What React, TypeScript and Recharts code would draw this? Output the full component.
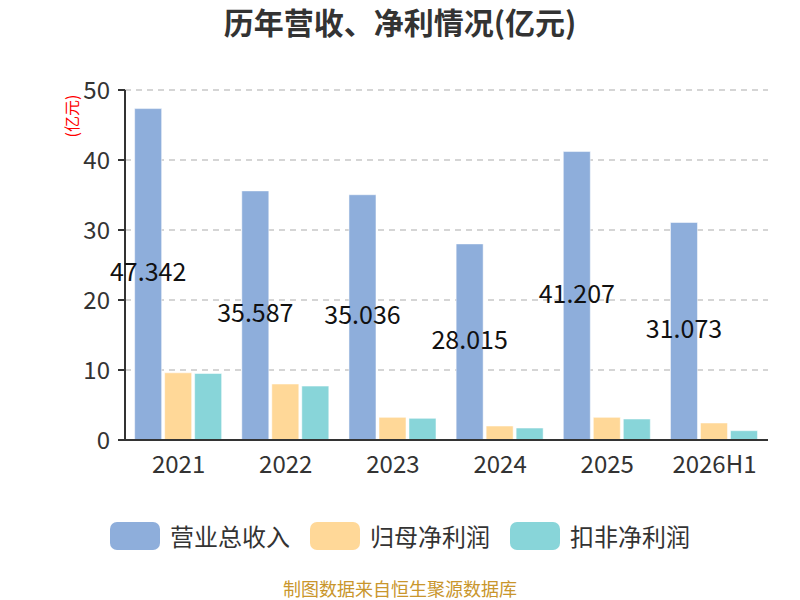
import React from 'react';
import { BarChart, Bar, XAxis, YAxis, CartesianGrid, LabelList } from 'recharts';

const categories = ['2021', '2022', '2023', '2024', '2025', '2026H1'];
const revenue = [47.342, 35.587, 35.036, 28.015, 41.207, 31.073];
const netProfit = [9.6, 8.0, 3.24, 2.0, 3.24, 2.43];
const deductedProfit = [9.5, 7.7, 3.1, 1.71, 3.0, 1.33];
const yTicks = [0, 10, 20, 30, 40, 50];
const seriesNames = ['营业总收入', '归母净利润', '扣非净利润'];
const colors = ['#8eaedb', '#ffd898', '#88d5d9'];

const data = categories.map((c, i) => ({
  name: c,
  idx: i,
  revenue: revenue[i],
  net: netProfit[i],
  ded: deductedProfit[i],
}));

const FONT = '"Noto Sans CJK SC", "Noto Sans", sans-serif';

export default function App() {
  return (
    <div style={{ position: 'absolute', left: 0, top: 0, width: 800, height: 600, background: '#fff', fontFamily: FONT, overflow: 'hidden' }}>
      <div style={{ position: 'absolute', top: 0, left: 0, width: 800, textAlign: 'center', fontSize: 30, lineHeight: '42px', fontWeight: 'bold', color: '#333' }}>
        历年营收、净利情况(亿元)
      </div>
      <BarChart
        width={800}
        height={600}
        data={data}
        margin={{ top: 90, right: 32, left: 0, bottom: 130 }}
        barCategoryGap="9%"
        barGap={3}
        style={{ fontFamily: FONT }}
      >
        <CartesianGrid vertical={false} stroke="#c8c8c8" strokeDasharray="6 5" strokeWidth={1.5} />
        <XAxis
          xAxisId="edges"
          type="number"
          domain={[0, 6]}
          ticks={[0, 1, 2, 3, 4, 5, 6]}
          tick={false}
          height={0}
          axisLine={false}
          tickLine={{ stroke: '#333', strokeWidth: 2 }}
          tickSize={8}
          allowDataOverflow
        />
        <XAxis
          dataKey="name"
          height={30}
          axisLine={{ stroke: '#333', strokeWidth: 2 }}
          tickLine={false}
          tickMargin={10}
          tick={{ fontSize: 24, fill: '#333' }}
        />
        <YAxis
          width={125}
          domain={[0, 50]}
          ticks={yTicks}
          axisLine={{ stroke: '#333', strokeWidth: 2 }}
          tickLine={{ stroke: '#333', strokeWidth: 2 }}
          tickSize={7}
          tickMargin={8}
          tick={{ fontSize: 24, fill: '#333' }}
          label={{
            value: '(亿元)',
            angle: -90,
            position: 'insideTopLeft',
            dx: 62,
            dy: 21,
            style: { fontSize: 16, fill: '#ff0000', textAnchor: 'middle' },
          }}
        />
        <Bar dataKey="revenue" fill={colors[0]} stroke="rgba(255,255,255,0.5)" isAnimationActive={false}>
          <LabelList dataKey="revenue" position="center" fill="#111" fontSize={25} dy={-2} />
        </Bar>
        <Bar dataKey="net" fill={colors[1]} stroke="rgba(255,255,255,0.5)" isAnimationActive={false} />
        <Bar dataKey="ded" fill={colors[2]} stroke="rgba(255,255,255,0.5)" isAnimationActive={false} />
      </BarChart>
      <div style={{ position: 'absolute', top: 522, left: 110, display: 'flex', alignItems: 'center' }}>
        {seriesNames.map((n, i) => (
          <div key={n} style={{ display: 'flex', alignItems: 'center', width: 200 }}>
            <div style={{ width: 50, height: 28, borderRadius: 7, background: colors[i] }} />
            <span style={{ marginLeft: 10, fontSize: 24, lineHeight: '28px', color: '#333' }}>{n}</span>
          </div>
        ))}
      </div>
      <div style={{ position: 'absolute', top: 579, left: 0, width: 800, textAlign: 'center', fontSize: 18, lineHeight: '18px', color: '#c9962c' }}>
        制图数据来自恒生聚源数据库
      </div>
    </div>
  );
}
